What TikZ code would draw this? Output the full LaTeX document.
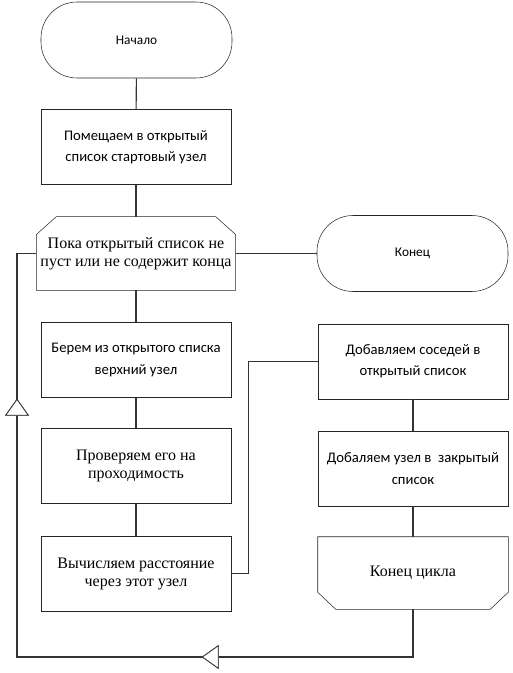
\documentclass[tikz,border=0pt]{standalone}
\usepackage{fontspec}
\setmainfont{Carlito}
\newfontfamily\tms{Liberation Serif}
\usetikzlibrary{arrows.meta,decorations.markings}
\tikzset{
    every node/.style={draw=black!85, inner sep=1mm, align=center, font=\fontsize{11}{16}\selectfont},
    term/.style={rectangle, rounded corners=27pt, minimum width=143.25pt, minimum height=57pt, font=\fontsize{10}{12}\selectfont},
    blk/.style={rectangle, minimum width=142.5pt, minimum height=56pt},
    serif/.style={font={\tms\fontsize{12}{13.5}\selectfont}},
    hidden/.style={draw=none},
    box/.style={draw=black!85},
    line/.style={draw=black!80, thick},
    tip/.style={decoration={markings, mark=at position #1 with {\arrow{Triangle[length=12.75pt, width=18pt, fill=white, line width=0.6pt]}}}, postaction={decorate}}
}

\begin{document}
\begin{tikzpicture}[x=0.75pt, y=-0.75pt]
        \useasboundingbox (0,0) rectangle (512,673);
        \node (t0) [term] at (136.5, 40) {Начало};
        \node (b1) [blk] at (136, 147) {Помещаем в открытый\\список стартовый узел};
        \node (b2) [blk, serif, hidden, minimum height=55pt] at (136, 253.5) {Пока открытый список не\\пуст или не содержит конца};
        \node (t1) [term] at (412.5, 253.5) {Конец};
        \node (b3) [blk] at (136, 360) {Берем из открытого списка\\верхний узел};
        \node (b4) [blk, serif] at (136, 466) {Проверяем его на\\ проходимость};
        \node (b5) [blk, serif] at (136, 573.5) {Вычисляем расстояние\\через этот узел};
        \node (b6) [blk] at (413, 361.5) {Добавляем соседей в\\открытый список};
        \node (b7) [blk] at (413, 468.5) {Добаляем узел в~ закрытый\\список};
        \node (b8) [blk, serif, hidden, minimum height=54pt] at (413, 573) {Конец цикла};
        \coordinate (c0) at (17, 657);
        % cut corners
        \draw[box] (b2.south west) -- ([yshift=-13.5pt]b2.north west) -- ([xshift=15pt]b2.north west)
                -- ([xshift=-15pt]b2.north east) -- ([yshift=-13.5pt]b2.north east) -- (b2.south east) -- cycle;
        \draw[box] (b8.north west) -- ([yshift=12.75pt]b8.south west) -- ([xshift=13.5pt]b8.south west)
                -- ([xshift=-13.5pt]b8.south east) -- ([yshift=12.75pt]b8.south east) -- (b8.north east) -- cycle;
        \draw[line] (t0) -- (b1);
        \draw[line] (b1) -- (b2);
        \draw[line] (b2) -- (b3);
        \draw[line] (b3) -- (b4);
        \draw[line] (b4) -- (b5);
        \draw[line] (b2) -- (t1);
        \draw[line] (b5.east) -- ++(17,0) |- (b6.west);
        \draw[line] (b6) -- (b7);
        \draw[line] (b7) -- (b8);
        \draw[line, tip=194.25pt, tip=526.5pt] (b8.south) |- (c0) -- (c0 |- b2.west) -- (b2.west);
\end{tikzpicture}
\end{document}
